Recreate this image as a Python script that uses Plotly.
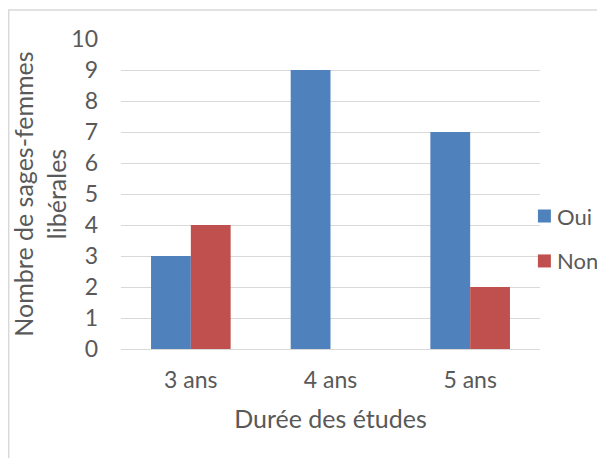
import plotly.graph_objects as go

# Chart data
categories = ["3 ans", "4 ans", "5 ans"]
series_names = ["Oui", "Non"]
oui = [3, 9, 7]
non = [4, 0, 2]

colors = ["#4F81BD", "#C0504D"]
font_family = "Lato"
text_color = "#595959"
grid_color = "#D9D9D9"

fig = go.Figure()
for name, values, color in zip(series_names, [oui, non], colors):
    fig.add_trace(go.Bar(name=name, x=categories, y=values,
                         marker=dict(color=color, line=dict(width=0)),
                         showlegend=False))

# the page body has an 8px margin, so the figure is shifted and narrowed
fig.update_layout(
    width=589, height=450,
    margin=dict(l=113, r=57, t=31, b=109, autoexpand=False),
    paper_bgcolor="white", plot_bgcolor="white",
    font=dict(family=font_family, color=text_color, size=23),
    barmode="group", bargap=0.43, bargroupgap=0,
    xaxis=dict(showgrid=False, showline=True, linecolor=grid_color, linewidth=1,
               ticks="", ticklabelstandoff=10,
               title=dict(text="Durée des études", font=dict(size=25), standoff=18)),
    yaxis=dict(range=[0, 10], dtick=1, showgrid=True, gridcolor=grid_color,
               gridwidth=1, zeroline=False, showline=False, ticks="",
               ticklabelstandoff=22,
               title=dict(text="Nombre de sages-femmes<br>libérales",
                          font=dict(size=25), standoff=8)),
)

# chart border
fig.add_shape(type="rect", xref="paper", yref="paper",
              x0=-0.268, x1=1.3, y0=-0.40, y1=1.0935,
              line=dict(color="#D9D9D9", width=1.5), layer="below")

# legend drawn by hand (squares + labels) to match Excel's compact spacing
legend_y = [0.429, 0.284]
for name, color, yc in zip(series_names, colors, legend_y):
    fig.add_shape(type="rect", xref="paper", yref="paper",
                  x0=0.995, x1=1.026, y0=yc - 0.021, y1=yc + 0.021,
                  line=dict(width=0), fillcolor=color)
    fig.add_annotation(text=name, xref="paper", yref="paper",
                       x=1.036, y=yc, xanchor="left", yanchor="middle",
                       showarrow=False, font=dict(size=22, color=text_color))

fig.write_html("out.html")
